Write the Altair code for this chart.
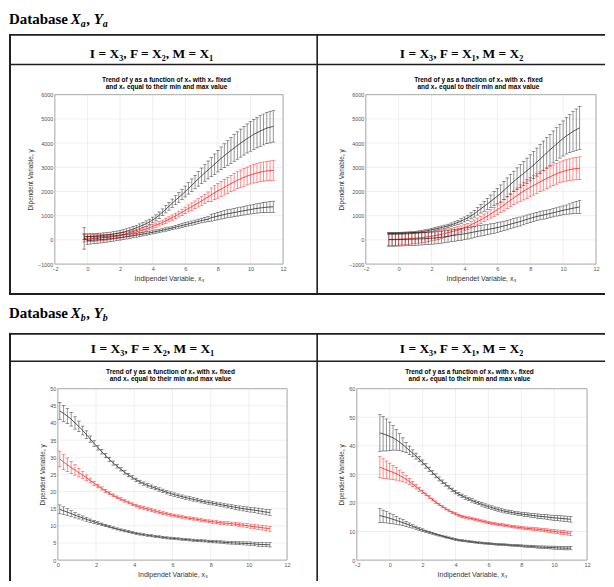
import altair as alt
import pandas as pd

SANS = "Liberation Sans"
SERIF = "Liberation Serif"
BORDER = "#1f1f1f"
GRID = "#e4e4e4"
BOX = "#9a9a9a"

# ---------------- Database Xa, Ya : panel 1 (F = X2, M = X1) ----------------
XA1 = [-0.2, 0.0, 0.2, 0.4, 0.6, 0.8, 1.0, 1.2, 1.4, 1.6, 1.8, 2.0, 2.2, 2.4, 2.6, 2.8, 3.0,
       3.2, 3.4, 3.6, 3.8, 4.0, 4.2, 4.4, 4.6, 4.8, 5.0, 5.2, 5.4, 5.6, 5.8, 6.0, 6.2, 6.4,
       6.6, 6.8, 7.0, 7.2, 7.4, 7.6, 7.8, 8.0, 8.2, 8.4, 8.6, 8.8, 9.0, 9.2, 9.4, 9.6, 9.8,
       10.0, 10.2, 10.4, 10.6, 10.8, 11.0, 11.2, 11.4]
A1_UP = [130, 137, 145, 155, 165, 177, 190, 204, 220, 241, 265, 291, 320, 358, 400, 448, 500,
         553, 610, 673, 740, 822, 910, 1022, 1140, 1265, 1390, 1515, 1640, 1755, 1870, 2000,
         2130, 2260, 2390, 2520, 2650, 2770, 2890, 3010, 3130, 3250, 3370, 3480, 3590, 3695,
         3800, 3900, 4000, 4095, 4190, 4275, 4360, 4430, 4500, 4560, 4620, 4655, 4690]
A1_UP_ERR = [120, 115, 110, 108, 105, 102, 100, 100, 100, 100, 100, 100, 100, 100, 100, 102,
             105, 108, 110, 112, 115, 120, 125, 132, 140, 150, 160, 172, 185, 198, 210, 225,
             240, 260, 280, 300, 320, 345, 370, 395, 420, 445, 470, 490, 510, 530, 550, 565,
             580, 590, 600, 610, 620, 628, 635, 640, 645, 648, 650]
A1_MID = [60, 65, 70, 77, 85, 92, 100, 112, 125, 142, 160, 180, 200, 228, 260, 294, 330, 370,
          410, 454, 500, 555, 610, 665, 720, 785, 850, 920, 990, 1065, 1140, 1220, 1300, 1375,
          1450, 1530, 1610, 1695, 1780, 1865, 1950, 2025, 2100, 2175, 2250, 2325, 2400, 2465,
          2530, 2585, 2640, 2685, 2730, 2765, 2800, 2825, 2850, 2860, 2870]
A1_MID_ERR = [150, 145, 140, 135, 130, 125, 120, 115, 110, 107, 105, 102, 100, 97, 95, 92, 90,
              87, 85, 85, 85, 87, 90, 92, 95, 100, 105, 110, 115, 122, 130, 137, 145, 152, 160,
              170, 180, 190, 200, 280, 290, 300, 310, 320, 330, 338, 345, 352, 360, 365, 370,
              375, 380, 385, 390, 395, 400, 402, 405]
A1_LOW = [60, -25, -20, -10, 0, 10, 20, 32, 45, 62, 80, 97, 115, 132, 150, 172, 195, 217, 240,
          265, 290, 317, 345, 372, 400, 430, 460, 492, 525, 560, 595, 628, 660, 695, 730, 765,
          800, 830, 860, 920, 950, 985, 1020, 1050, 1080, 1105, 1130, 1155, 1180, 1205, 1230,
          1255, 1280, 1300, 1320, 1335, 1350, 1360, 1370]
A1_LOW_ERR = [440, 155, 150, 145, 140, 135, 130, 125, 120, 115, 110, 105, 100, 95, 90, 85, 80,
              77, 75, 72, 70, 70, 70, 70, 70, 70, 70, 72, 75, 77, 80, 82, 85, 87, 90, 92, 95, 97,
              100, 145, 150, 155, 160, 162, 165, 167, 170, 172, 175, 177, 180, 185, 190, 195,
              200, 207, 215, 222, 230]

# ---------------- Database Xa, Ya : panel 2 (F = X1, M = X2) ----------------
XA2 = [-0.6, -0.4, -0.2, 0.0, 0.2, 0.4, 0.6, 0.8, 1.0, 1.2, 1.4, 1.6, 1.8, 2.0, 2.2, 2.4, 2.6,
       2.8, 3.0, 3.2, 3.4, 3.6, 3.8, 4.0, 4.2, 4.4, 4.6, 4.8, 5.0, 5.2, 5.4, 5.6, 5.8, 6.0,
       6.2, 6.4, 6.6, 6.8, 7.0, 7.2, 7.4, 7.6, 7.8, 8.0, 8.2, 8.4, 8.6, 8.8, 9.0, 9.2, 9.4,
       9.6, 9.8, 10.0, 10.2, 10.4, 10.6, 10.8, 11.0]
A2_UP = [270, 271, 272, 275, 278, 284, 290, 300, 310, 325, 340, 365, 390, 420, 450, 480, 510,
         545, 580, 625, 670, 725, 780, 845, 910, 995, 1080, 1185, 1290, 1390, 1490, 1595, 1700,
         1810, 1920, 2045, 2170, 2295, 2420, 2530, 2640, 2750, 2860, 2975, 3090, 3215, 3340,
         3470, 3600, 3720, 3840, 3960, 4080, 4190, 4300, 4390, 4480, 4555, 4630]
A2_UP_ERR = [40, 40, 40, 40, 40, 41, 42, 43, 45, 47, 50, 52, 55, 57, 60, 62, 65, 67, 70, 75,
             80, 87, 95, 102, 110, 125, 140, 160, 180, 205, 230, 260, 290, 320, 350, 370, 390,
             405, 420, 445, 470, 495, 520, 540, 560, 580, 600, 615, 630, 645, 660, 680, 700,
             725, 750, 785, 820, 855, 890]
A2_MID = [20, 22, 25, 30, 35, 42, 50, 60, 70, 82, 95, 112, 130, 152, 175, 202, 230, 265, 300,
          335, 370, 410, 450, 505, 560, 625, 690, 760, 830, 910, 990, 1075, 1160, 1250, 1340,
          1440, 1540, 1640, 1740, 1835, 1930, 2015, 2100, 2175, 2250, 2325, 2400, 2470, 2540,
          2605, 2670, 2730, 2790, 2830, 2870, 2900, 2930, 2945, 2960]
A2_MID_ERR = [260, 255, 250, 245, 240, 235, 230, 225, 220, 215, 210, 205, 200, 192, 185, 177,
              170, 162, 155, 147, 140, 132, 125, 125, 125, 130, 135, 142, 150, 157, 165, 175,
              185, 197, 210, 225, 240, 260, 280, 310, 340, 365, 390, 395, 400, 405, 410, 415,
              420, 422, 425, 427, 430, 435, 440, 447, 455, 462, 470]
A2_LOW = [10, 11, 12, 15, 18, 21, 25, 30, 35, 40, 45, 52, 60, 70, 80, 95, 110, 130, 150, 170,
          190, 210, 230, 252, 275, 302, 330, 355, 380, 405, 430, 455, 480, 510, 540, 575, 610,
          650, 690, 725, 760, 805, 850, 890, 930, 965, 1000, 1030, 1060, 1090, 1120, 1155,
          1190, 1220, 1250, 1280, 1310, 1335, 1360]
A2_LOW_ERR = [270, 270, 270, 269, 268, 266, 265, 262, 260, 257, 255, 252, 250, 249, 248, 247,
              246, 245, 245, 245, 245, 245, 245, 242, 240, 235, 230, 225, 220, 216, 212, 209,
              206, 203, 200, 197, 195, 192, 190, 187, 185, 182, 180, 177, 175, 173, 172, 171,
              170, 170, 170, 172, 175, 182, 190, 210, 230, 250, 270]

# ---------------- Database Xb, Yb : panel 1 (F = X2, M = X1) ----------------
XB1 = [0.1, 0.3, 0.5, 0.7, 0.9, 1.1, 1.3, 1.5, 1.7, 1.9, 2.1, 2.3, 2.5, 2.7, 2.9, 3.1, 3.3,
       3.5, 3.7, 3.9, 4.1, 4.3, 4.5, 4.7, 4.9, 5.1, 5.3, 5.5, 5.7, 5.9, 6.1, 6.3, 6.5, 6.7,
       6.9, 7.1, 7.3, 7.5, 7.7, 7.9, 8.1, 8.3, 8.5, 8.7, 8.9, 9.1, 9.3, 9.5, 9.7, 9.9, 10.1,
       10.3, 10.5, 10.7, 10.9, 11.1]
B1_UP = [43.5, 42.8, 42.0, 41.1, 40.0, 39.0, 37.8, 36.6, 35.3, 34.0, 32.8, 31.6, 30.5, 29.4,
         28.3, 27.4, 26.5, 25.6, 24.8, 24.1, 23.4, 22.8, 22.3, 21.8, 21.4, 21.0, 20.6, 20.2,
         19.8, 19.4, 19.1, 18.8, 18.5, 18.2, 18.0, 17.7, 17.5, 17.2, 17.0, 16.8, 16.6, 16.4,
         16.2, 16.0, 15.8, 15.6, 15.4, 15.2, 15.0, 14.85, 14.7, 14.55, 14.4, 14.2, 14.0, 13.9]
B1_UP_ERR = [2.5, 2.35, 2.2, 2.0, 1.8, 1.55, 1.3, 1.1, 0.9, 0.8, 0.7, 0.65, 0.6, 0.6, 0.6,
             0.55, 0.5, 0.5, 0.5, 0.5, 0.5, 0.5, 0.5, 0.5, 0.5, 0.5, 0.5, 0.5, 0.5, 0.5, 0.5,
             0.5, 0.5, 0.5, 0.5, 0.5, 0.5, 0.5, 0.5, 0.5, 0.5, 0.5, 0.5, 0.5, 0.55, 0.57, 0.6,
             0.62, 0.65, 0.67, 0.7, 0.72, 0.75, 0.77, 0.8, 0.82]
B1_MID = [29.5, 28.6, 27.8, 27.0, 26.3, 25.5, 24.8, 24.0, 23.2, 22.4, 21.6, 20.9, 20.2, 19.5,
          18.9, 18.3, 17.8, 17.3, 16.8, 16.3, 15.9, 15.5, 15.2, 14.9, 14.6, 14.3, 14.0, 13.7,
          13.5, 13.2, 13.0, 12.8, 12.6, 12.4, 12.2, 12.05, 11.9, 11.7, 11.5, 11.35, 11.2, 11.05,
          10.9, 10.8, 10.7, 10.6, 10.5, 10.35, 10.2, 10.05, 9.9, 9.75, 9.6, 9.45, 9.3, 9.15]
B1_MID_ERR = [2.3, 2.15, 2.0, 1.75, 1.5, 1.25, 1.0, 0.85, 0.7, 0.6, 0.5, 0.47, 0.45, 0.42,
              0.4, 0.4, 0.4, 0.4, 0.4, 0.4, 0.4, 0.4, 0.4, 0.4, 0.4, 0.4, 0.4, 0.4, 0.4, 0.4,
              0.4, 0.4, 0.4, 0.4, 0.4, 0.4, 0.4, 0.4, 0.4, 0.4, 0.45, 0.45, 0.45, 0.47, 0.5,
              0.5, 0.5, 0.52, 0.55, 0.57, 0.6, 0.62, 0.65, 0.67, 0.7, 0.72]
B1_LOW = [14.8, 14.4, 14.0, 13.55, 13.1, 12.7, 12.3, 11.9, 11.5, 11.15, 10.8, 10.45, 10.1,
          9.75, 9.4, 9.1, 8.8, 8.55, 8.3, 8.05, 7.8, 7.6, 7.4, 7.25, 7.1, 6.95, 6.8, 6.65, 6.5,
          6.4, 6.3, 6.2, 6.1, 6.0, 5.9, 5.8, 5.7, 5.65, 5.6, 5.5, 5.4, 5.35, 5.3, 5.2, 5.1,
          5.05, 5.0, 4.95, 4.9, 4.85, 4.8, 4.7, 4.6, 4.55, 4.5, 4.45]
B1_LOW_ERR = [1.3, 1.15, 1.0, 0.9, 0.8, 0.7, 0.6, 0.55, 0.5, 0.45, 0.4, 0.37, 0.35, 0.32,
              0.3, 0.3, 0.3, 0.3, 0.3, 0.3, 0.3, 0.3, 0.3, 0.3, 0.3, 0.3, 0.3, 0.3, 0.3, 0.3,
              0.3, 0.3, 0.3, 0.3, 0.3, 0.3, 0.3, 0.3, 0.3, 0.3, 0.35, 0.35, 0.35, 0.37, 0.4,
              0.4, 0.4, 0.42, 0.45, 0.47, 0.5, 0.52, 0.55, 0.57, 0.6, 0.62]

# ---------------- Database Xb, Yb : panel 2 (F = X1, M = X2) ----------------
XB2 = [-0.6, -0.4, -0.2, 0.0, 0.2, 0.4, 0.6, 0.8, 1.0, 1.2, 1.4, 1.6, 1.8, 2.0, 2.2, 2.4, 2.6,
       2.8, 3.0, 3.2, 3.4, 3.6, 3.8, 4.0, 4.2, 4.4, 4.6, 4.8, 5.0, 5.2, 5.4, 5.6, 5.8, 6.0,
       6.2, 6.4, 6.6, 6.8, 7.0, 7.2, 7.4, 7.6, 7.8, 8.0, 8.2, 8.4, 8.6, 8.8, 9.0, 9.2, 9.4,
       9.6, 9.8, 10.0, 10.2, 10.4, 10.6, 10.8, 11.0]
B2_UP = [44.5, 44.2, 43.8, 43.3, 42.8, 42.1, 41.3, 40.4, 39.4, 38.4, 37.4, 36.4, 35.3, 34.2,
         33.0, 31.8, 30.6, 29.5, 28.4, 27.4, 26.5, 25.5, 24.6, 23.8, 23.1, 22.5, 21.9, 21.4,
         20.9, 20.4, 20.0, 19.5, 19.1, 18.7, 18.4, 18.0, 17.7, 17.4, 17.1, 16.9, 16.7, 16.5,
         16.3, 16.15, 16.0, 15.85, 15.7, 15.55, 15.4, 15.3, 15.2, 15.05, 14.9, 14.8, 14.7,
         14.6, 14.5, 14.4, 14.3]
B2_UP_ERR = [6.4, 6.0, 5.6, 5.0, 4.3, 3.6, 3.0, 2.4, 1.8, 1.5, 1.2, 1.05, 0.9, 0.85, 0.8, 0.75,
             0.7, 0.7, 0.7, 0.65, 0.6, 0.6, 0.6, 0.6, 0.6, 0.6, 0.6, 0.6, 0.6, 0.6, 0.6, 0.6,
             0.6, 0.6, 0.6, 0.6, 0.6, 0.6, 0.6, 0.6, 0.6, 0.6, 0.6, 0.62, 0.65, 0.67, 0.7, 0.72,
             0.75, 0.77, 0.8, 0.82, 0.85, 0.87, 0.9, 0.92, 0.95, 0.97, 1.0]
B2_MID = [32.5, 32.05, 31.6, 31.15, 30.7, 30.2, 29.6, 29.0, 28.3, 27.5, 26.6, 25.7, 24.8, 23.9,
          23.0, 22.1, 21.2, 20.3, 19.5, 18.7, 18.0, 17.3, 16.7, 16.2, 15.7, 15.3, 15.0, 14.75,
          14.5, 14.25, 14.0, 13.7, 13.4, 13.15, 12.9, 12.7, 12.5, 12.35, 12.2, 12.0, 11.8,
          11.65, 11.5, 11.35, 11.2, 11.1, 11.0, 10.9, 10.8, 10.65, 10.5, 10.35, 10.2, 10.05,
          9.9, 9.75, 9.6, 9.45, 9.3]
B2_MID_ERR = [3.7, 3.4, 3.1, 2.8, 2.5, 2.2, 1.9, 1.6, 1.3, 1.1, 0.9, 0.8, 0.7, 0.6, 0.5, 0.47,
              0.45, 0.42, 0.4, 0.4, 0.4, 0.4, 0.4, 0.4, 0.4, 0.4, 0.4, 0.4, 0.4, 0.4, 0.4, 0.4,
              0.4, 0.4, 0.4, 0.4, 0.4, 0.4, 0.4, 0.4, 0.4, 0.42, 0.45, 0.45, 0.45, 0.47, 0.5,
              0.5, 0.5, 0.52, 0.55, 0.57, 0.6, 0.62, 0.65, 0.67, 0.7, 0.7, 0.7]
B2_LOW = [15.6, 15.3, 15.0, 14.65, 14.3, 13.9, 13.5, 13.1, 12.7, 12.25, 11.8, 11.35, 10.9,
          10.5, 10.1, 9.75, 9.4, 9.05, 8.7, 8.4, 8.1, 7.8, 7.5, 7.25, 7.0, 6.85, 6.7, 6.55,
          6.4, 6.25, 6.1, 6.0, 5.9, 5.8, 5.7, 5.6, 5.5, 5.45, 5.4, 5.3, 5.2, 5.15, 5.1, 5.0,
          4.9, 4.85, 4.8, 4.7, 4.6, 4.55, 4.5, 4.45, 4.4, 4.35, 4.3, 4.25, 4.2, 4.2, 4.2]
B2_LOW_ERR = [2.4, 2.2, 2.0, 1.8, 1.6, 1.4, 1.2, 1.05, 0.9, 0.75, 0.6, 0.55, 0.5, 0.45, 0.4,
              0.37, 0.35, 0.32, 0.3, 0.3, 0.3, 0.3, 0.3, 0.3, 0.3, 0.3, 0.3, 0.3, 0.3, 0.3, 0.3,
              0.3, 0.3, 0.3, 0.3, 0.3, 0.3, 0.3, 0.3, 0.3, 0.3, 0.32, 0.35, 0.35, 0.35, 0.37,
              0.4, 0.4, 0.4, 0.42, 0.45, 0.47, 0.5, 0.52, 0.55, 0.57, 0.6, 0.6, 0.6]

# ---------------- ticks & texts ----------------
X_TICKS_A = [-2, 0, 2, 4, 6, 8, 10, 12]
Y_TICKS_A = [-1000, 0, 1000, 2000, 3000, 4000, 5000, 6000]
X_TICKS_B1 = [0, 2, 4, 6, 8, 10, 12]
Y_TICKS_B1 = [0, 5, 10, 15, 20, 25, 30, 35, 40, 45, 50]
X_TICKS_B2 = [-2, 0, 2, 4, 6, 8, 10, 12]
Y_TICKS_B2 = [0, 10, 20, 30, 40, 50, 60]

SERIES = ["upper", "middle", "lower"]
SERIES_COLORS = ["#111111", "#ff0000", "#111111"]

HEADER_1 = "I = X₃, F = X₂, M = X₁"
HEADER_2 = "I = X₃, F = X₁, M = X₂"
TITLE_1A = "Trend of y as a function of x₃ with x₂ fixed"
TITLE_1B = "and x₁ equal to their min and max value"
TITLE_2A = "Trend of y as a function of x₃ with x₁ fixed"
TITLE_2B = "and x₂ equal to their min and max value"
X_TITLE = "Indipendet Variable, x₃"
Y_TITLE = "Dipendent Variable, y"

ONE = pd.DataFrame({"k": [0]})


def panel_df(xs, up, upe, mid, mide, low, lowe):
    rows = []
    for name, m, e in (("upper", up, upe), ("middle", mid, mide), ("lower", low, lowe)):
        for x, v, d in zip(xs, m, e):
            rows.append({"x": x, "y": v, "lo": v - d, "hi": v + d, "s": name})
    return pd.DataFrame(rows)


def txt(text, x, y, size, font, weight="normal", style="normal", align="center",
        baseline="alphabetic", color="#000000"):
    return alt.Chart(ONE).mark_text(
        text=text, font=font, fontSize=size, fontWeight=weight, fontStyle=style,
        align=align, baseline=baseline, color=color
    ).encode(x=alt.value(x), y=alt.value(y))


def hline(x1, x2, y, w):
    return alt.Chart(ONE).mark_rule(color=BORDER, strokeWidth=w).encode(
        x=alt.value(x1), x2=alt.value(x2), y=alt.value(y))


def vline(x, y1, y2, w):
    return alt.Chart(ONE).mark_rule(color=BORDER, strokeWidth=w).encode(
        x=alt.value(x), y=alt.value(y1), y2=alt.value(y2))


def cell(df, xticks, yticks, W, H, box, header, header_x, header_y, t1, t2, title_x,
         title_y, sep_y, left, right, bottom):
    bl, br, bt, bb = box
    xdom = [xticks[0], xticks[-1]]
    ydom = [yticks[0], yticks[-1]]
    xsc = alt.Scale(domain=xdom, range=[bl, br], nice=False, zero=False)
    ysc = alt.Scale(domain=ydom, range=[bb, bt], nice=False, zero=False)
    xax = alt.Axis(orient="bottom", offset=bb - H, values=xticks, format="d", grid=False,
                   domain=False, ticks=False, labelFont=SANS, labelFontSize=5.5,
                   labelColor="#555555", labelPadding=2, labelFlush=False, labelOverlap=False,
                   title=X_TITLE, titleFont=SANS, titleFontSize=7, titleFontWeight="normal",
                   titleColor="#333333", titlePadding=3)
    yax = alt.Axis(orient="left", offset=-bl, values=yticks, format="d", grid=False,
                   domain=False, ticks=False, labelFont=SANS, labelFontSize=5.5,
                   labelColor="#555555", labelPadding=2, labelFlush=False, labelOverlap=False,
                   title=Y_TITLE, titleFont=SANS, titleFontSize=6.5, titleFontWeight="normal",
                   titleColor="#333333", titlePadding=4)

    def X(f):
        return alt.X(f"{f}:Q", scale=xsc, axis=xax)

    def Y(f):
        return alt.Y(f"{f}:Q", scale=ysc, axis=yax)

    col = alt.Color("s:N", scale=alt.Scale(domain=SERIES, range=SERIES_COLORS), legend=None)

    gv = pd.DataFrame({"x": xticks, "y": [ydom[0]] * len(xticks), "y2": [ydom[1]] * len(xticks)})
    gh = pd.DataFrame({"y": yticks, "x": [xdom[0]] * len(yticks), "x2": [xdom[1]] * len(yticks)})
    bx = pd.DataFrame({"x": [xdom[0]], "x2": [xdom[1]], "y": [ydom[0]], "y2": [ydom[1]]})

    layers = [
        alt.Chart(gv).mark_rule(color=GRID, strokeWidth=0.6).encode(x=X("x"), y=Y("y"), y2="y2"),
        alt.Chart(gh).mark_rule(color=GRID, strokeWidth=0.6).encode(x=X("x"), x2="x2", y=Y("y")),
        alt.Chart(bx).mark_rect(fill="white", fillOpacity=0, stroke=BOX, strokeWidth=0.8).encode(
            x=X("x"), x2="x2", y=Y("y"), y2="y2"),
        alt.Chart(df).mark_rule(strokeWidth=0.45).encode(x=X("x"), y=Y("lo"), y2="hi", color=col),
        alt.Chart(df).mark_tick(orient="horizontal", size=3.6, thickness=0.6).encode(
            x=X("x"), y=Y("lo"), color=col),
        alt.Chart(df).mark_tick(orient="horizontal", size=3.6, thickness=0.6).encode(
            x=X("x"), y=Y("hi"), color=col),
        alt.Chart(df).mark_line(strokeWidth=0.7).encode(x=X("x"), y=Y("y"), color=col),
        txt(header, header_x, header_y, 13.5, SERIF, weight="bold"),
        txt(t1, title_x, title_y[0], 6.5, SANS, weight="bold", baseline="middle"),
        txt(t2, title_x, title_y[1], 6.5, SANS, weight="bold", baseline="middle"),
        hline(0, W, 1, 1.8),
        hline(0, W, sep_y, 1.6),
    ]
    if bottom:
        layers.append(hline(0, W, H - 1, 1.8))
    if left:
        layers.append(vline(1, 0, H, 2))
    if right:
        layers.append(vline(W - 0.8, 0, H, 1.6))
    return alt.layer(*layers).properties(width=W, height=H)


def section(H, base, sub):
    return alt.layer(
        txt("Database", 0, base, 15, SERIF, weight="bold", align="left"),
        txt("X", 62, base, 15, SERIF, weight="bold", style="italic", align="left"),
        txt(sub, 72, base + 3.5, 10, SERIF, weight="bold", style="italic", align="left"),
        txt(",", 77.5, base, 15, SERIF, weight="bold", align="left"),
        txt("Y", 85, base, 15, SERIF, weight="bold", style="italic", align="left"),
        txt(sub, 94, base + 3.5, 10, SERIF, weight="bold", style="italic", align="left"),
    ).properties(width=598, height=H)


dfA1 = panel_df(XA1, A1_UP, A1_UP_ERR, A1_MID, A1_MID_ERR, A1_LOW, A1_LOW_ERR)
dfA2 = panel_df(XA2, A2_UP, A2_UP_ERR, A2_MID, A2_MID_ERR, A2_LOW, A2_LOW_ERR)
dfB1 = panel_df(XB1, B1_UP, B1_UP_ERR, B1_MID, B1_MID_ERR, B1_LOW, B1_LOW_ERR)
dfB2 = panel_df(XB2, B2_UP, B2_UP_ERR, B2_MID, B2_MID_ERR, B2_LOW, B2_LOW_ERR)

cA1 = cell(dfA1, X_TICKS_A, Y_TICKS_A, 310, 262, (46, 275, 61, 231), HEADER_1, 143, 24.5,
           TITLE_1A, TITLE_1B, 158, (46, 53), 30.7, True, True, True)
cA2 = cell(dfA2, X_TICKS_A, Y_TICKS_A, 288, 262, (48, 279, 61, 231), HEADER_2, 144, 24.5,
           TITLE_2A, TITLE_2B, 161, (46, 53), 30.7, False, False, True)
cB1 = cell(dfB1, X_TICKS_B1, Y_TICKS_B1, 310, 249, (49, 279, 56, 228), HEADER_1, 144, 20,
           TITLE_1A, TITLE_1B, 162, (39, 46.5), 28.5, True, True, False)
cB2 = cell(dfB2, X_TICKS_B2, Y_TICKS_B2, 288, 249, (39, 270, 56, 228), HEADER_2, 144, 20,
           TITLE_2A, TITLE_2B, 152, (39, 46.5), 28.5, False, False, False)

chart = alt.vconcat(
    section(24, 14.7, "a"),
    alt.hconcat(cA1, cA2, spacing=0, bounds="flush"),
    section(36, 22, "b"),
    alt.hconcat(cB1, cB2, spacing=0, bounds="flush"),
    spacing=0,
).properties(padding=0, background="white").configure_view(stroke=None)

chart.save("out.html", embed_options={"renderer": "svg", "actions": False})
